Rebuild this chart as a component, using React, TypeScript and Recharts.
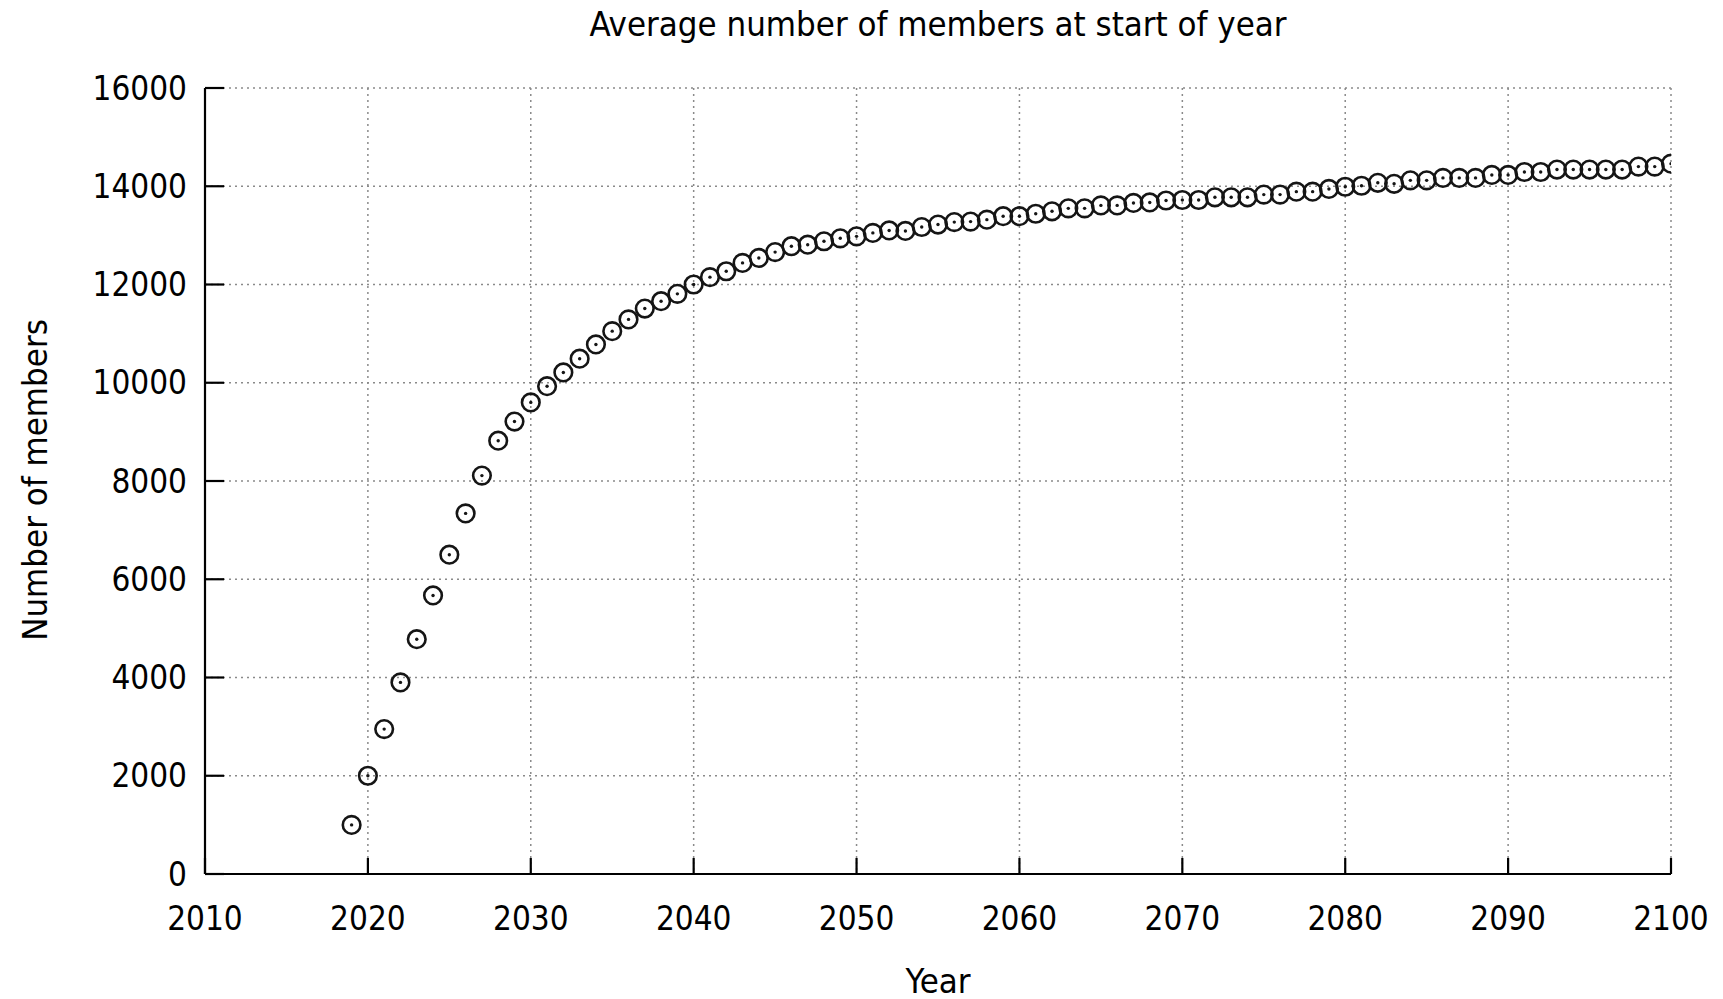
import React from "react";
import {
  ScatterChart,
  Scatter,
  XAxis,
  YAxis,
  CartesianGrid,
} from "recharts";

const years: number[] = [
  2019, 2020, 2021, 2022, 2023, 2024, 2025, 2026, 2027, 2028, 2029,
  2030, 2031, 2032, 2033, 2034, 2035, 2036, 2037, 2038, 2039,
  2040, 2041, 2042, 2043, 2044, 2045, 2046, 2047, 2048, 2049,
  2050, 2051, 2052, 2053, 2054, 2055, 2056, 2057, 2058, 2059,
  2060, 2061, 2062, 2063, 2064, 2065, 2066, 2067, 2068, 2069,
  2070, 2071, 2072, 2073, 2074, 2075, 2076, 2077, 2078, 2079,
  2080, 2081, 2082, 2083, 2084, 2085, 2086, 2087, 2088, 2089,
  2090, 2091, 2092, 2093, 2094, 2095, 2096, 2097, 2098, 2099, 2100,
];

const members: number[] = [
  1000, 2000, 2950, 3900, 4780, 5670, 6500, 7340, 8110, 8820, 9210,
  9600, 9930, 10210, 10490, 10780, 11050, 11290, 11510, 11660, 11810,
  12000, 12150, 12270, 12440, 12540, 12660, 12780, 12810, 12880, 12940,
  12980, 13050, 13100, 13090, 13170, 13220, 13270, 13280, 13320, 13390,
  13390, 13440, 13490, 13550, 13550, 13610, 13610, 13660, 13670, 13710,
  13720, 13720, 13775, 13775, 13775, 13830, 13830, 13890, 13890, 13945,
  13990, 14010, 14070, 14050, 14120, 14120, 14170, 14170, 14170, 14230,
  14230, 14290, 14290, 14340, 14340, 14340, 14340, 14340, 14400, 14400, 14460,
];

const xTicks: number[] = [2010, 2020, 2030, 2040, 2050, 2060, 2070, 2080, 2090, 2100];
const yTicks: number[] = [0, 2000, 4000, 6000, 8000, 10000, 12000, 14000, 16000];

const title = "Average number of members at start of year";
const xLabel = "Year";
const yLabel = "Number of members";

const data = years.map((y, i) => ({ year: y, members: members[i] }));

const FONT = "'DejaVu Sans Condensed', 'DejaVu Sans', sans-serif";
const TICK_FS = 33;
const LABEL_FS = 34.5;

const Marker = (props: any) => {
  const { cx, cy } = props;
  if (cx == null || cy == null) return null;
  return (
    <g>
      <circle cx={cx} cy={cy} r={8.8} fill="none" stroke="#151515" strokeWidth={2.6} />
      <circle cx={cx} cy={cy} r={1.7} fill="#151515" />
    </g>
  );
};

export default function App() {
  const tickStyle = { fontFamily: FONT, fontSize: TICK_FS, fill: "#000" };
  const axisLine = { stroke: "#000", strokeWidth: 2.2 };
  const tickLine = { stroke: "#000", strokeWidth: 2.2 };
  const labelStyle: React.CSSProperties = {
    position: "absolute",
    transform: "translate(-50%, -50%)",
    fontSize: LABEL_FS,
    whiteSpace: "nowrap",
    color: "#000",
    lineHeight: 1,
  };
  return (
    <div
      style={{
        position: "absolute",
        left: 0,
        top: 0,
        width: 1723,
        height: 999,
        background: "#fff",
        fontFamily: FONT,
      }}
    >
      <ScatterChart
        width={1723}
        height={999}
        margin={{ top: 88, right: 52, bottom: 0, left: 0 }}
      >
        <CartesianGrid
          xAxisId="b"
          yAxisId="l"
          stroke="#8a8a8a"
          strokeWidth={1.5}
          strokeDasharray="2 4"
          horizontalValues={yTicks}
          verticalValues={xTicks}
        />
        <XAxis
          xAxisId="b"
          type="number"
          dataKey="year"
          domain={[2010, 2100]}
          ticks={xTicks}
          interval={0}
          orientation="bottom"
          height={125}
          tickSize={-16}
          tickMargin={49}
          tick={tickStyle}
          axisLine={axisLine}
          tickLine={tickLine}
          allowDataOverflow
        />
        <XAxis
          xAxisId="t"
          type="number"
          domain={[2010, 2100]}
          ticks={xTicks}
          interval={0}
          orientation="top"
          height={0}
          mirror
          tick={false}
          tickSize={16}
          axisLine={axisLine}
          tickLine={tickLine}
          allowDataOverflow
        />
        <YAxis
          yAxisId="l"
          type="number"
          dataKey="members"
          domain={[0, 16000]}
          ticks={yTicks}
          interval={0}
          orientation="left"
          width={205}
          tickSize={-19}
          tickMargin={37}
          tick={tickStyle}
          axisLine={axisLine}
          tickLine={tickLine}
          allowDataOverflow
        />
        <YAxis
          yAxisId="r"
          type="number"
          domain={[0, 16000]}
          ticks={yTicks}
          interval={0}
          orientation="right"
          width={0}
          mirror
          tick={false}
          tickSize={19}
          axisLine={axisLine}
          tickLine={tickLine}
          allowDataOverflow
        />
        <Scatter
          xAxisId="b"
          yAxisId="l"
          data={data}
          dataKey="members"
          shape={Marker}
          isAnimationActive={false}
        />
      </ScatterChart>
      <div style={{ ...labelStyle, left: 938, top: 24 }}>{title}</div>
      <div style={{ ...labelStyle, left: 938, top: 981 }}>{xLabel}</div>
      <div
        style={{
          ...labelStyle,
          left: 35,
          top: 480,
          transform: "translate(-50%, -50%) rotate(-90deg)",
        }}
      >
        {yLabel}
      </div>
    </div>
  );
}
